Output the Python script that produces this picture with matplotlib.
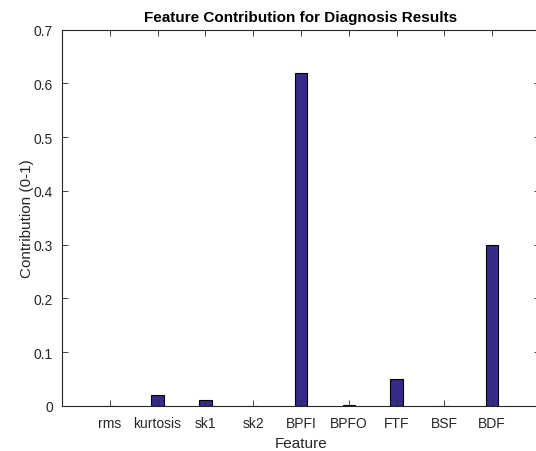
import matplotlib
matplotlib.use('Agg')
import matplotlib.pyplot as plt
import numpy as np

features = ['rms', 'kurtosis', 'sk1', 'sk2', 'BPFI', 'BPFO', 'FTF', 'BSF', 'BDF']
contribution = [0.0005, 0.021, 0.0115, 0.0, 0.619, 0.002, 0.050, 0.0, 0.299]

plt.rcParams['font.family'] = ['Liberation Sans', 'DejaVu Sans']
ink = '#262626'

fig = plt.figure(figsize=(5.36, 4.52), dpi=100)
# axes runs slightly past the right edge, like the cropped MATLAB export
ax = fig.add_axes([0.1157, 0.0996, 0.8918, 0.8325])

x = np.arange(1, len(features) + 1)
ax.bar(x, contribution, width=0.26, color='#352A87', edgecolor='black', linewidth=0.8)

ax.set_xlim(0, 10)
ax.set_ylim(0, 0.7)
ax.set_xticks(x)
ax.set_xticklabels(features)
ax.set_yticks(np.arange(0, 0.71, 0.1))
ax.set_yticklabels(['0', '0.1', '0.2', '0.3', '0.4', '0.5', '0.6', '0.7'])

ax.tick_params(direction='in', length=4.5, width=0.6, colors=ink, labelsize=10,
               top=True, right=True)
ax.tick_params(axis='x', pad=7.5)
ax.tick_params(axis='y', pad=6.5)
for s in ax.spines.values():
    s.set_color(ink)
    s.set_linewidth(0.8)

ax.set_xlabel('Feature', fontsize=11, color=ink, labelpad=4)
ax.set_ylabel('Contribution (0-1)', fontsize=11, color=ink, labelpad=0)
ax.set_title('Feature Contribution for Diagnosis Results', fontsize=11,
             fontweight='bold', color='black', pad=6)

fig.savefig('out.png', dpi=100)
